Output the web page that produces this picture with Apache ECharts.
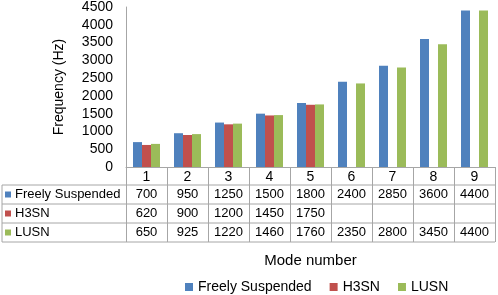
<!DOCTYPE html>
<html>
<head>
<meta charset="utf-8">
<script src="https://cdn.jsdelivr.net/npm/echarts@6/dist/echarts.min.js"></script>
<style>
  html, body { margin: 0; padding: 0; background: #fff; }
  #chart { width: 498px; height: 295px; }
</style>
</head>
<body>
<div id="chart"></div>
<script>
const modes = ['1', '2', '3', '4', '5', '6', '7', '8', '9']
const freelySuspended = [700, 950, 1250, 1500, 1800, 2400, 2850, 3600, 4400]
const h3sn = [620, 900, 1200, 1450, 1750, null, null, null, null]
const lusn = [650, 925, 1220, 1460, 1760, 2350, 2800, 3450, 4400]
const seriesNames = ['Freely Suspended', 'H3SN', 'LUSN']
const colors = ['#4F81BD', '#C0504D', '#9BBB59']

const font = 'Liberation Sans, Arial, sans-serif'
const lineColor = '#A6A6A6'

// table rows below the axis (pixel rows)
const headerTop = 167
const rowTops = [185, 204, 223]
const rowBottom = 242
const tableLeft = 2

const chart = echarts.init(document.getElementById('chart'))
chart.setOption({
  animation: false,
  textStyle: { fontFamily: font, color: '#000' },
  grid: { left: 126, right: 3, top: 7, bottom: 295 - headerTop },
  legend: {
    data: seriesNames,
    left: 180,
    top: 275,
    icon: 'rect',
    itemWidth: 8,
    itemHeight: 8,
    itemGap: 18,
    textStyle: { fontSize: 14, color: '#000', fontFamily: font }
  },
  xAxis: {
    type: 'category',
    data: modes,
    axisLine: { lineStyle: { color: lineColor } },
    axisTick: { show: true, length: rowBottom - headerTop, lineStyle: { color: lineColor } },
    axisLabel: { margin: 3, fontSize: 14, color: '#000', fontFamily: font },
    name: 'Mode number',
    nameLocation: 'middle',
    nameGap: 86,
    nameTextStyle: { fontSize: 15, color: '#000', fontFamily: font }
  },
  yAxis: {
    type: 'value',
    min: 0,
    max: 4500,
    interval: 500,
    axisLine: { show: true, lineStyle: { color: lineColor } },
    axisTick: { show: false },
    splitLine: { show: false },
    axisLabel: { margin: 13, fontSize: 14, color: '#000', fontFamily: font, formatter: v => String(v) },
    name: 'Frequency (Hz)',
    nameLocation: 'middle',
    nameGap: 60,
    nameTextStyle: { fontSize: 14, color: '#000', fontFamily: font }
  },
  series: [
    { name: seriesNames[0], type: 'bar', data: freelySuspended, barWidth: 9, barGap: '0%', itemStyle: { color: colors[0] } },
    { name: seriesNames[1], type: 'bar', data: h3sn, barWidth: 9, barGap: '0%', itemStyle: { color: colors[1] } },
    { name: seriesNames[2], type: 'bar', data: lusn, barWidth: 9, barGap: '0%', itemStyle: { color: colors[2] } }
  ]
})

// data table drawn with graphics, columns placed from the category axis
const rows = [freelySuspended, h3sn, lusn]
const x0 = chart.convertToPixel({ xAxisIndex: 0 }, 0)
const x1 = chart.convertToPixel({ xAxisIndex: 0 }, 1)
const step = x1 - x0
const plotRight = chart.convertToPixel({ xAxisIndex: 0 }, modes.length - 1) + step / 2
const graphics = []
const hline = y => ({
  type: 'line', silent: true,
  shape: { x1: tableLeft, y1: y, x2: plotRight, y2: y },
  style: { stroke: lineColor, lineWidth: 1 }
})
rowTops.forEach(y => graphics.push(hline(y)))
graphics.push(hline(rowBottom))
graphics.push({
  type: 'line', silent: true,
  shape: { x1: tableLeft, y1: rowTops[0], x2: tableLeft, y2: rowBottom },
  style: { stroke: lineColor, lineWidth: 1 }
})
rows.forEach((vals, r) => {
  const top = rowTops[r]
  const bottom = r < rowTops.length - 1 ? rowTops[r + 1] : rowBottom
  const cy = (top + bottom) / 2
  graphics.push({
    type: 'rect', silent: true,
    shape: { x: 5, y: cy - 3, width: 6, height: 6 },
    style: { fill: colors[r] }
  })
  graphics.push({
    type: 'text', silent: true, x: 15, y: cy,
    style: { text: seriesNames[r], font: '13px ' + font, fill: '#000', verticalAlign: 'middle' }
  })
  vals.forEach((v, i) => {
    if (v == null) return
    graphics.push({
      type: 'text', silent: true,
      x: chart.convertToPixel({ xAxisIndex: 0 }, i), y: cy,
      style: { text: String(v), font: '13px ' + font, fill: '#000', align: 'center', verticalAlign: 'middle' }
    })
  })
})
chart.setOption({ graphic: graphics })
</script>
</body>
</html>
